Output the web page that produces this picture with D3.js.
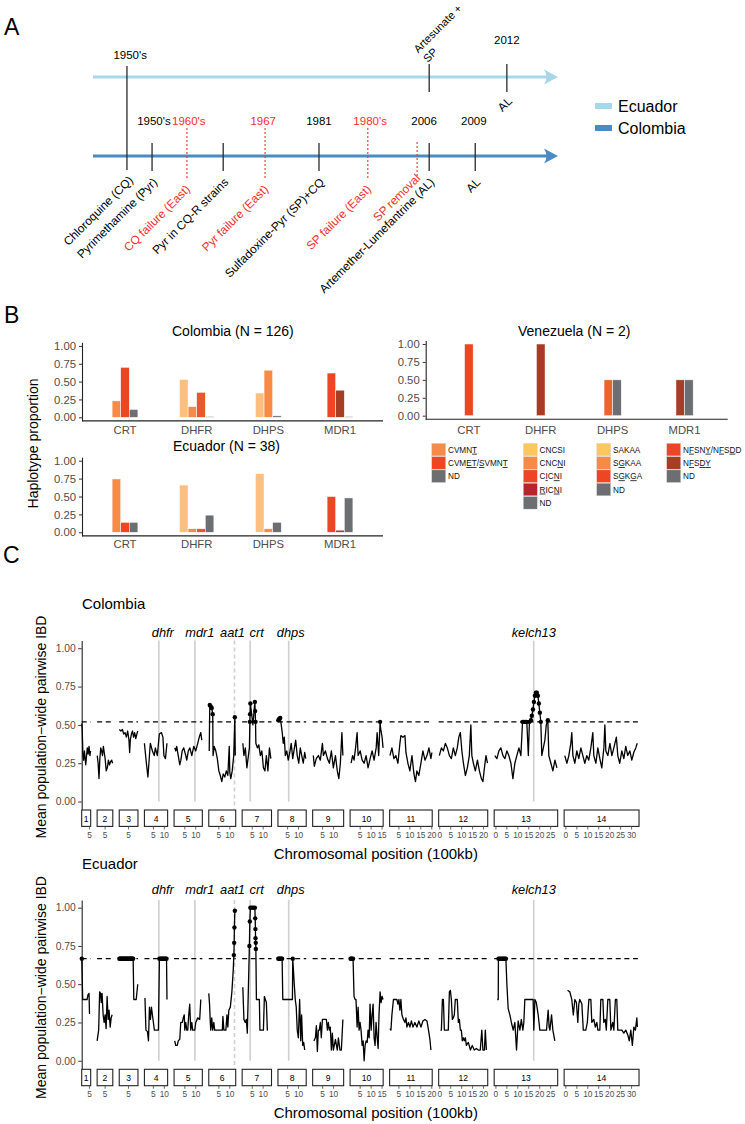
<!DOCTYPE html>
<html><head><meta charset="utf-8">
<script src="https://cdn.jsdelivr.net/npm/d3@7/dist/d3.min.js"></script>
<style>
html,body{margin:0;padding:0;background:#fff;}
svg text{font-family:"Liberation Sans",Arial,Helvetica,sans-serif;}
</style></head><body>
<svg id="fig" width="745" height="1124"></svg>
<script>
// ================= DATA =================
// Panel A: timeline slots (0-100 along the arrow)
const sharedEventSlots = [7.3];
const sharedEventDrugs = ["Chloroquine (CQ)"];
const sharedYearLabels = ["1950's"];
const sharedYearSlots = [8.0];
const colEventSlots = [12.7, 28.0, 48.6, 72.3, 82.2];
const colEventDrugs = ["Pyrimethamine (Pyr)", "Pyr in CQ-R strains", "Sulfadoxine-Pyr (SP)+CQ", "Artemether-Lumefantrine (AL)", "AL"];
const colFailSlots = [20.2, 37.0, 59.1, 69.7];
const colFailLabels = ["CQ failure (East)", "Pyr failure (East)", "SP failure (East)", "SP removal"];
const colYearSlots = [13.1, 20.6, 36.6, 48.6, 59.6, 71.2, 81.9];
const colYearLabels = ["1950's", "1960's", "1967", "1981", "1980's", "2006", "2009"];
const colYearIsFailure = [false, true, true, false, true, false, false];
const ecuEventSlots = [72.3, 89.0];
const ecuEventDrugs = [["Artesunate +", "SP"], ["AL"]];
const ecuYearSlots = [89.0];
const ecuYearLabels = ["2012"];
const countries = ["Ecuador", "Colombia"];

// Panel B: haplotype proportions
const genes = ["CRT", "DHFR", "DHPS", "MDR1"];
const crtHaps = ["CVMN[T]", "CVM[ET]/[S]VMN[T]", "ND"];
const dhfrHaps = ["CNCSI", "CNC[N]I", "C[I]C[N]I", "[R]IC[N]I", "ND"];
const dhpsHaps = ["SAKAA", "S[G]KAA", "S[G]K[G]A", "ND"];
const mdr1Haps = ["N[F]SN[Y]/N[F]S[D]D", "N[F]S[D][Y]", "ND"];
const colombiaProp = [[0.23, 0.70, 0.11], [0.53, 0.15, 0.35, 0, 0.01], [0.34, 0.66, 0, 0.02], [0.62, 0.38, 0.01]];
const ecuadorProp = [[0.745, 0.14, 0.14], [0.66, 0.05, 0.05, 0, 0.24], [0.82, 0.05, 0, 0.14], [0.50, 0.03, 0.48]];
const venezuelaProp = [[0, 1.0, 0], [0, 0, 0, 1.0, 0], [0, 0, 0.5, 0.5], [0, 0.5, 0.5]];
const yTicksB = [0, 0.25, 0.5, 0.75, 1];

// Panel C: IBD along chromosomes (position in 100kb, mean IBD)
const chromosomes = ["1","2","3","4","5","6","7","8","9","10","11","12","13","14"];
const chrDomain = [[1.45,5.55],[1.35,8.5],[0.75,9.3],[0.9,11.5],[0.1,13.0],[0.4,12.7],[0.4,13.8],[0.6,13.5],[0.45,14.6],[0.4,15.5],[0.75,20.2],[-0.5,21.9],[-0.8,28.2],[-0.8,33.4]];
const geneNames = ["dhfr", "mdr1", "aat1", "crt", "dhps", "kelch13"];
const geneChr = [4, 5, 6, 7, 8, 13];
const genePos = [7.5, 9.6, 12.15, 4.05, 5.5, 17.25];
const yTicksC = [0, 0.25, 0.5, 0.75, 1];
const colombiaThreshold = 0.52;
const ecuadorThreshold = 0.667;

const colombiaIBD = [
 [[1.5,.51],[1.7,.46],[2.0,.30],[2.3,.27],[2.7,.33],[3.0,.28],[3.3,.24],[3.6,.29],[4.0,.35],[4.4,.31],[4.8,.36],[5.2,.30],[5.5,.33]],
 [[1.4,.30],[1.8,.25],[2.2,.15],[2.6,.28],[3.0,.35],[3.4,.33],[3.8,.30],[4.2,.36],[4.6,.32],[5.0,.28],[5.5,.20],[6.0,.22],[6.5,.27],[7.0,.24],[7.5,.26],[8.0,.27],[8.4,.25]],
 [[0.8,.47],[1.5,.46],[2.2,.47],[2.8,.44],[3.4,.45],[4.0,.42],[4.6,.46],[5.2,.40],[5.5,.32],[5.8,.40],[6.3,.44],[6.8,.46],[7.3,.42],[7.8,.45],[8.3,.41],[8.8,.44],[9.2,.46]],
 [[0.9,.38],[1.8,.25],[2.5,.16],[3.2,.30],[3.6,.38],[4.55,.33],[5.4,.30],[5.9,.35],[6.8,.30],[7.7,.44],[8.65,.45],[9.35,.42],[9.8,.30],[10.5,.28],[11.2,.38]],
 [[0.4,.35],[0.9,.33],[1.3,.36],[2.0,.30],[2.7,.24],[3.2,.27],[3.8,.33],[4.5,.35],[5.45,.30],[5.9,.27],[6.6,.33],[7.3,.35],[8.2,.30],[9.1,.36],[10.0,.33],[10.9,.38],[11.6,.42],[12.3,.45],[12.75,.40]],
 [[0.6,.33],[0.85,.63],[1.3,.62],[1.75,.61],[2.2,.57],[2.35,.30],[2.9,.36],[3.6,.33],[4.3,.28],[5.0,.20],[5.65,.17],[6.35,.13],[7.0,.18],[7.7,.16],[8.4,.20],[9.1,.17],[9.75,.36],[10.0,.19],[10.45,.15],[11.1,.20],[11.8,.30],[12.3,.55],[12.5,.30]],
 [[0.7,.38],[1.2,.30],[1.85,.35],[2.55,.22],[3.25,.30],[3.7,.35],[3.92,.52],[4.0,.57],[4.15,.64],[5.3,.50],[6.2,.65],[6.35,.59],[6.5,.52],[6.65,.38],[7.35,.35],[8.0,.37],[8.7,.30],[9.4,.33],[10.1,.22],[10.8,.20],[11.45,.30],[12.15,.20],[12.85,.35],[13.5,.28]],
 [[0.75,.53],[1.2,.54],[1.65,.545],[2.1,.50],[2.55,.45],[3.0,.38],[3.5,.42],[3.95,.30],[4.6,.33],[5.3,.27],[6.0,.32],[6.65,.38],[7.35,.28],[8.0,.34],[8.7,.40],[9.4,.30],[10.1,.25],[10.8,.35],[11.45,.30],[12.15,.25],[12.8,.32],[13.3,.28]],
 [[0.75,.30],[1.2,.23],[2.1,.28],[3.05,.30],[3.95,.27],[4.9,.38],[5.35,.30],[6.25,.33],[7.2,.28],[8.1,.25],[9.0,.33],[9.9,.22],[10.85,.30],[11.7,.20],[12.4,.15],[13.1,.25],[13.8,.45],[14.25,.30]],
 [[0.85,.25],[1.55,.30],[2.2,.27],[2.9,.35],[3.6,.45],[4.05,.30],[5.0,.33],[5.9,.27],[6.8,.25],[7.7,.30],[8.6,.22],[9.55,.28],[10.45,.33],[11.35,.27],[12.3,.35],[12.75,.45],[13.45,.30],[14.1,.52],[14.3,.48],[15.0,.42],[15.45,.35]],
 [[0.9,.30],[1.8,.35],[2.7,.28],[3.6,.30],[4.55,.25],[5.45,.38],[5.9,.43],[6.85,.42],[7.75,.43],[8.2,.32],[9.1,.25],[10.0,.20],[10.95,.30],[11.85,.18],[12.55,.13],[13.2,.20],[14.1,.17],[15.05,.25],[15.95,.33],[16.9,.27],[17.8,.30],[18.7,.35],[19.6,.28],[20.05,.32]],
 [[-0.2,.30],[0.75,.35],[1.65,.33],[2.55,.38],[3.45,.35],[4.4,.30],[5.3,.28],[6.2,.35],[7.1,.30],[8.0,.35],[8.7,.42],[9.4,.45],[10.1,.33],[10.8,.25],[11.7,.17],[12.6,.22],[13.5,.30],[14.2,.50],[14.65,.30],[15.35,.25],[16.25,.20],[17.2,.27],[18.1,.20],[19.0,.15],[19.7,.13],[20.4,.22],[21.1,.30],[21.8,.25]],
 [[-0.5,.30],[0.45,.28],[1.35,.33],[2.25,.35],[3.2,.30],[4.1,.28],[5.0,.33],[5.9,.30],[6.85,.25],[7.75,.15],[8.65,.25],[9.55,.30],[10.5,.35],[11.4,.30],[12.15,.52],[12.75,.52],[13.45,.52],[14.1,.52],[14.8,.30],[15.3,.52],[16.0,.53],[16.4,.56],[16.9,.60],[17.35,.65],[17.8,.69],[18.25,.71],[18.7,.71],[19.15,.69],[19.6,.64],[20.05,.58],[20.5,.52],[20.95,.30],[21.65,.35],[22.35,.40],[23.0,.50],[23.7,.53],[24.15,.30],[25.1,.25],[26.0,.20],[26.95,.27],[27.85,.22]],
 [[-0.5,.30],[0.45,.25],[1.35,.30],[2.25,.38],[2.7,.45],[3.2,.30],[4.1,.25],[5.0,.33],[5.9,.28],[6.85,.35],[7.75,.30],[8.65,.25],[9.55,.30],[10.45,.27],[11.4,.35],[12.3,.45],[12.75,.30],[13.7,.25],[14.6,.35],[15.5,.28],[16.4,.22],[17.35,.35],[17.8,.50],[18.25,.33],[19.15,.30],[20.1,.38],[21.0,.30],[21.9,.35],[23.05,.42],[23.7,.30],[24.6,.25],[25.55,.33],[26.45,.28],[27.35,.36],[28.25,.30],[29.2,.33],[30.1,.27],[31.0,.32],[31.9,.35],[32.6,.38]]
];

const ecuadorIBD = [
 [[1.5,.667],[1.9,.40],[3.9,.40],[4.3,.43],[4.8,.44],[5.0,.31],[5.3,.31]],
 [[1.35,.13],[2.05,.20],[2.5,.45],[2.95,.44],[3.2,.38],[3.6,.44],[4.1,.30],[4.55,.25],[5.0,.30],[5.45,.21],[5.9,.42],[6.4,.27],[6.8,.33],[7.3,.22],[7.75,.28],[8.2,.30]],
 [[0.8,.667],[1.1,.667],[1.4,.667],[1.7,.667],[2.0,.667],[2.3,.667],[2.6,.667],[2.9,.667],[3.2,.667],[3.5,.667],[3.8,.667],[4.1,.667],[4.4,.667],[4.7,.667],[5.0,.667],[5.3,.667],[5.6,.667],[5.9,.667],[6.2,.667],[6.5,.667],[6.8,.667],[7.1,.667],[7.4,.40],[8.5,.40],[9.2,.50]],
 [[1.15,.41],[1.6,.20],[2.3,.19],[2.75,.13],[3.2,.35],[3.65,.27],[4.1,.35],[4.55,.30],[5.0,.25],[5.45,.20],[6.4,.20],[7.3,.20],[7.75,.667],[8.2,.667],[8.6,.667],[9.0,.667],[9.4,.667],[9.8,.667],[10.2,.667],[10.6,.667],[11.0,.667],[11.2,.40]],
 [[0.4,.13],[0.85,.10],[1.55,.10],[2.0,.13],[2.7,.14],[3.15,.25],[3.85,.25],[4.3,.28],[4.75,.30],[5.0,.20],[5.45,.25],[5.9,.20],[6.35,.20],[6.8,.30],[7.25,.37],[7.7,.20],[8.2,.25],[8.6,.20],[9.55,.20],[10.0,.25],[10.9,.28],[11.8,.27],[12.3,.40]],
 [[0.4,.44],[0.75,.37],[1.1,.25],[1.3,.20],[1.75,.28],[2.2,.20],[2.7,.25],[3.1,.20],[4.05,.20],[5.0,.20],[5.9,.20],[6.6,.20],[6.85,.29],[7.3,.20],[8.2,.20],[8.7,.30],[9.1,.22],[9.55,.33],[10.25,.35],[10.95,.45],[11.6,.60],[11.85,.69],[12.0,.77],[12.1,.87],[12.3,.98]],
 [[0.7,.48],[1.2,.27],[1.85,.25],[2.3,.27],[2.75,.18],[3.7,.75],[3.9,.91],[4.15,1.0],[4.8,1.0],[5.5,1.0],[6.2,1.0],[6.35,.93],[6.45,.86],[6.5,.80],[6.6,.77],[6.65,.73],[6.9,.40],[7.55,.40],[8.25,.40],[8.5,.20],[9.4,.20],[10.1,.20],[10.55,.42],[11.0,.40],[11.45,.38],[11.9,.20],[12.15,.20]],
 [[0.75,.667],[1.1,.667],[1.45,.667],[1.8,.667],[2.15,.667],[2.5,.667],[2.8,.40],[3.9,.40],[4.85,.40],[6.0,.40],[7.2,.40],[7.35,.667],[8.05,.50],[8.5,.40],[8.95,.35],[9.4,.20],[9.9,.15],[10.5,.40],[11.0,.13],[11.4,.30],[11.9,.10],[12.35,.12],[12.8,.07]],
 [[1.0,.13],[1.7,.15],[2.15,.23],[2.6,.06],[3.05,.20],[3.5,.20],[3.95,.25],[4.4,.15],[4.9,.27],[5.8,.27],[6.7,.27],[7.2,.20],[7.6,.25],[8.1,.20],[8.5,.22],[9.0,.07],[9.45,.18],[9.9,.07],[10.85,.14],[11.3,.10],[11.7,.07],[12.2,.15],[12.9,.07],[13.55,.07],[14.25,.27]],
 [[0.6,.667],[0.85,.667],[1.3,.667],[1.75,.667],[2.2,.42],[2.7,.40],[3.1,.40],[3.6,.22],[4.05,.35],[4.5,.20],[4.95,.25],[5.4,.20],[5.9,.10],[6.35,.13],[6.8,.0],[7.25,.10],[7.7,.13],[8.2,.12],[8.6,.20],[9.1,.15],[9.5,.37],[10.0,.20],[10.45,.30],[10.9,.37],[11.35,.15],[11.8,.10],[12.25,.25],[12.75,.15],[13.2,.08],[13.6,.30],[14.1,.45],[14.55,.38],[15.0,.42],[15.45,.40]],
 [[0.9,.21],[1.35,.20],[1.8,.30],[2.5,.40],[3.15,.40],[4.05,.40],[4.55,.37],[5.0,.40],[5.45,.33],[5.9,.40],[6.35,.30],[7.05,.27],[7.75,.25],[8.2,.28],[8.65,.22],[9.35,.25],[10.0,.22],[10.7,.26],[11.4,.22],[12.3,.25],[13.2,.22],[14.1,.26],[15.05,.22],[15.95,.26],[16.9,.27],[17.8,.26],[18.5,.20],[19.15,.14],[19.6,.07]],
 [[0.3,.20],[0.75,.20],[1.2,.40],[1.65,.40],[2.1,.20],[3.0,.20],[3.9,.20],[4.4,.45],[4.85,.46],[5.3,.40],[5.75,.27],[6.2,.28],[6.65,.30],[7.1,.40],[8.0,.40],[8.5,.25],[8.95,.27],[9.4,.20],[9.85,.20],[10.3,.13],[10.8,.15],[11.2,.13],[11.7,.15],[12.15,.10],[13.05,.12],[14.0,.07],[14.85,.10],[15.75,.07],[16.7,.08],[17.6,.07],[18.5,.07],[19.2,.20],[19.7,.07],[20.4,.07],[20.8,.20],[21.3,.07]],
 [[0.6,.40],[1.05,.40],[1.15,.667],[1.8,.667],[2.25,.667],[2.7,.667],[3.2,.667],[3.65,.667],[4.1,.667],[4.55,.667],[5.0,.50],[5.6,.34],[6.37,.30],[7.05,.25],[7.9,.20],[8.65,.25],[9.4,.07],[10.15,.26],[10.95,.20],[11.6,.27],[12.3,.20],[12.75,.25],[13.2,.40],[14.1,.40],[15.05,.40],[15.95,.40],[17.0,.40],[17.3,.20],[17.8,.40],[18.45,.38],[19.3,.30],[20.05,.20],[21.45,.20],[23.1,.20],[23.85,.33],[24.3,.22],[24.65,.20],[25.4,.30],[26.0,.20],[26.9,.13]],
 [[0.75,.46],[1.8,.45],[2.7,.40],[3.4,.30],[4.1,.40],[4.8,.38],[5.45,.25],[5.9,.37],[6.35,.40],[7.3,.37],[7.95,.20],[9.1,.20],[9.8,.25],[10.5,.40],[11.4,.40],[11.85,.25],[12.75,.27],[13.45,.22],[14.15,.25],[14.6,.20],[15.5,.20],[15.95,.40],[16.9,.40],[17.3,.25],[18.0,.27],[18.45,.20],[19.15,.40],[20.05,.40],[20.55,.20],[21.4,.25],[21.9,.20],[22.6,.40],[23.25,.40],[23.7,.20],[24.6,.20],[25.55,.20],[26.45,.18],[27.35,.20],[28.25,.17],[28.95,.13],[29.65,.20],[30.35,.10],[31.05,.22],[31.75,.20],[32.4,.28],[32.65,.22]]
];

// ================= DRAWING =================
const svg = d3.select("#fig");
const GREY_TXT = "#4d4d4d";

[["A",4,35],["B",4,323],["C",3,563]].forEach(([t,x,y]) =>
  svg.append("text").attr("x",x).attr("y",y).attr("font-size",23).text(t));

// ---------- Panel A ----------
const tl = d3.scaleLinear().domain([0,100]).range([93,558]);
const yLine = d3.scaleOrdinal().domain(countries).range([77,156]);
const lineColor = d3.scaleOrdinal().domain(countries).range(["#a8d7e9","#4a8bc4"]);
const RED = "#f2302b", TICK = "#2b2b2b";

countries.forEach(c => {
  const y = yLine(c), col = lineColor(c), xe = tl(100);
  svg.append("line").attr("x1",tl(0)).attr("x2",xe-9).attr("y1",y).attr("y2",y)
     .attr("stroke",col).attr("stroke-width",3);
  svg.append("path").attr("d",`M${xe},${y} L${xe-14},${y-7.5} Q${xe-9},${y} ${xe-14},${y+7.5} Z`).attr("fill",col);
});

function vtick(x,y1,y2,color,dash){
  svg.append("line").attr("x1",x).attr("x2",x).attr("y1",y1).attr("y2",y2)
    .attr("stroke",color).attr("stroke-width",dash?1.1:1.3).attr("stroke-dasharray",dash?"2,2":null);
}
function rotText(x,y,lines,anchor,color,lineFirstUp,fs){
  const g = svg.append("g").attr("transform",`translate(${x},${y})`);
  const t = g.append("g").attr("transform","rotate(-45)").append("text")
    .attr("text-anchor",anchor).attr("fill",color).attr("font-size",fs||11.8);
  const n = lines.length;
  lines.forEach((l,i)=>{
    t.append("tspan").attr("x",0).attr("y",(i-(n-1))*13.5).attr("dy",lineFirstUp?0:"0.35em").text(l);
  });
}
function yearText(x,y,t,color){
  svg.append("text").attr("x",x).attr("y",y).attr("text-anchor","middle").attr("fill",color).attr("font-size",11.5).text(t);
}
const yC = yLine("Colombia"), yE = yLine("Ecuador");
sharedEventSlots.forEach((s,i)=>{
  vtick(tl(s), yE-11, yC+14, TICK);
  rotText(tl(s)+4, yC+22, [sharedEventDrugs[i]], "end", "#000");
});
sharedYearSlots.forEach((s,i)=> yearText(tl(s), 59, sharedYearLabels[i], "#000"));
colEventSlots.forEach((s,i)=>{
  vtick(tl(s), yC-13, yC+15, TICK);
  rotText(tl(s)+3, yC+24, [colEventDrugs[i]], "end", "#000");
});
colFailSlots.forEach((s,i)=>{
  const last = i===colFailSlots.length-1;
  vtick(tl(s), last? yC-14 : yC-28, last? yC+21 : yC+24, RED, true);
  rotText(tl(s)+1, last? yC+20 : yC+31, [colFailLabels[i]], "end", RED);
});
colYearSlots.forEach((s,i)=> yearText(tl(s), 125, colYearLabels[i], colYearIsFailure[i]?RED:"#000"));
ecuEventSlots.forEach((s,i)=>{
  vtick(tl(s), yE-13, yE+15, TICK);
  if(i===0) rotText(tl(s)-1.5, yE-14, ecuEventDrugs[i], "start", "#000", true, 11);
  else rotText(tl(s)+3, yE+22, ecuEventDrugs[i], "end", "#000");
});
ecuYearSlots.forEach((s,i)=> yearText(tl(s), 44, ecuYearLabels[i], "#000"));
countries.forEach((c,i)=>{
  const y = 106 + i*22;
  svg.append("rect").attr("x",595).attr("y",y-3).attr("width",17).attr("height",6).attr("fill",lineColor(c));
  svg.append("text").attr("x",618).attr("y",y+5.5).attr("font-size",16).text(c);
});

// ---------- Panel B ----------
const hapLists = [crtHaps, dhfrHaps, dhpsHaps, mdr1Haps];
const hapColors = [
  ["#f68b47","#ee4524","#6d6e71"],
  ["#fdbf80","#f68b47","#e65a29","#a83b25","#6d6e71"],
  ["#fdbf80","#f68b47","#e9652c","#6d6e71"],
  ["#ee4524","#a63d25","#6d6e71"]
];
const legendHapColors = [
  ["#f68b47","#ee4524","#6d6e71"],
  ["#fdc75f","#f68b47","#ee4524","#b8232d","#6d6e71"],
  ["#fdc75f","#f68b47","#ee4524","#6d6e71"],
  ["#ee4524","#a63d25","#6d6e71"]
];
const BW = 8.6;
function barPanel(x0,x1,y0,y1,props,title,titleX,titleY,labY){
  const u = y0-y1;
  const y = d3.scaleLinear().domain([-0.05,1.05]).range([y0+0.05*u, y1-0.05*u]);
  const x = d3.scalePoint().domain(genes).range([x0,x1]).padding(0.6);
  const g = svg.append("g");
  const ax = g.append("g").attr("transform",`translate(${x0},0)`)
    .call(d3.axisLeft(y).tickValues(yTicksB).tickFormat(d3.format(".2f")).tickSize(3).tickSizeOuter(0).tickPadding(3));
  ax.select(".domain").attr("stroke","#222").attr("stroke-width",1.1);
  ax.selectAll(".tick line").attr("stroke","#333");
  ax.selectAll(".tick text").attr("fill",GREY_TXT).attr("font-size",11.3).attr("font-family",null);
  g.append("line").attr("x1",x0).attr("x2",x1).attr("y1",y(-0.05)).attr("y2",y(-0.05)).attr("stroke","#222").attr("stroke-width",1.1);
  genes.forEach((gname,gi)=>{
    const vals = props[gi].map((v,hi)=>({v,hi})).filter(d=>d.v>0);
    const start = x(gname) - vals.length*BW/2;
    vals.forEach((d,k)=>{
      g.append("rect").attr("x",start+k*BW).attr("width",BW).attr("y",y(d.v)).attr("height",y(0)-y(d.v))
        .attr("fill",hapColors[gi][d.hi]).attr("stroke","#fff").attr("stroke-width",0.5);
    });
    g.append("text").attr("x",x(gname)).attr("y",labY).attr("text-anchor","middle").attr("fill",GREY_TXT).attr("font-size",11.3).text(gname);
  });
  g.append("text").attr("x",titleX).attr("y",titleY).attr("font-size",14).text(title);
}
barPanel(82,383,417.3,345.9,colombiaProp,"Colombia (N = 126)",172,336,433.5);
barPanel(82,383,532.3,460.7,ecuadorProp,"Ecuador (N = 38)",173,451,547.5);
barPanel(425.7,727.7,415.7,344,venezuelaProp,"Venezuela (N = 2)",518,336,433.5);
svg.append("text").attr("transform","translate(37.5,443.5) rotate(-90)").attr("text-anchor","middle").attr("font-size",14).text("Haplotype proportion");

const legX = [431.7, 523.3, 596.7, 666.7];
function richText(sel,label){
  const parts = label.split(/(\[[^\]]*\])/).filter(p=>p.length);
  parts.forEach(p=>{
    if(p[0]==="["){ sel.append("tspan").attr("text-decoration","underline").style("text-decoration","underline").text(p.slice(1,-1)); }
    else sel.append("tspan").text(p);
  });
}
hapLists.forEach((haps,gi)=>{
  haps.forEach((h,hi)=>{
    const y = 443.3 + hi*13.3;
    svg.append("rect").attr("x",legX[gi]).attr("y",y).attr("width",14).attr("height",12.6)
      .attr("fill",legendHapColors[gi][hi]).attr("stroke","#ddd").attr("stroke-width",0.4);
    const t = svg.append("text").attr("x",legX[gi]+16.3).attr("y",y+9.4).attr("font-size",8.2).attr("fill","#111");
    richText(t,h);
  });
});

// ---------- Panel C ----------
const K = 2.19, GAP = 6.45, XL = 81.7;
let cur = XL;
const chrScales = chrDomain.map(d=>{
  const w=(d[1]-d[0])*K; const s=d3.scaleLinear().domain(d).range([cur,cur+w]); cur+=w+GAP; return s;
});
const geneNudge = [4, 5, -2, 6.5, 2, 0];

function ibdPanel(data,thr,yTop,yBot,title,titleY,geneY,stripTop,tickLabY,xTitleY,yTitleC){
  const y = d3.scaleLinear().domain([-0.05,1.05]).range([yBot,yTop]);
  const g = svg.append("g");
  g.append("text").attr("x",82).attr("y",titleY).attr("font-size",15).text(title);
  geneNames.forEach((gn,i)=>{
    const xs = chrScales[geneChr[i]-1](genePos[i]);
    const dashed = gn==="aat1";
    g.append("line").attr("x1",xs).attr("x2",xs).attr("y1",yTop).attr("y2",dashed?yBot:y(0))
      .attr("stroke","#cfcfcf").attr("stroke-width",1.6).attr("stroke-dasharray",dashed?"4,3":null);
    g.append("text").attr("x",xs+geneNudge[i]).attr("y",geneY).attr("text-anchor","middle")
      .attr("font-size",12.8).attr("font-style","italic").text(gn);
  });
  const ax = g.append("g").attr("transform",`translate(${XL},0)`)
    .call(d3.axisLeft(y).tickValues(yTicksC).tickFormat(d3.format(".2f")).tickSize(3.5).tickSizeOuter(0).tickPadding(2.5));
  ax.select(".domain").attr("stroke","#222").attr("stroke-width",1.1);
  ax.selectAll(".tick line").attr("stroke","#333");
  ax.selectAll(".tick text").attr("fill",GREY_TXT).attr("font-size",10.3).attr("font-family",null);
  const line = d3.line().x(d=>d[0]).y(d=>y(d[1]));
  chrScales.forEach((xs,ci)=>{
    const [a,b] = xs.range();
    g.append("line").attr("x1",a).attr("x2",b).attr("y1",y(thr)).attr("y2",y(thr))
      .attr("stroke","#000").attr("stroke-width",1.1).attr("stroke-dasharray","5,3.6");
    const pts = data[ci].map(d=>[xs(d[0]),d[1]]);
    g.append("path").attr("d",line(pts)).attr("fill","none").attr("stroke","#000").attr("stroke-width",1.3).attr("stroke-linejoin","round");
    data[ci].filter(d=>d[1]>=thr-0.005).forEach(d=>{
      g.append("circle").attr("cx",xs(d[0])).attr("cy",y(d[1])).attr("r",2.2).attr("fill","#000");
    });
    g.append("rect").attr("x",a).attr("y",stripTop).attr("width",b-a).attr("height",16.4)
      .attr("fill","#fff").attr("stroke","#222").attr("stroke-width",1.1);
    g.append("text").attr("x",(a+b)/2).attr("y",stripTop+11.6).attr("text-anchor","middle").attr("font-size",8.6).text(chromosomes[ci]);
    const d = xs.domain();
    d3.range(Math.ceil(d[0]/5)*5, d[1]+1e-9, 5).forEach(v=>{
      g.append("line").attr("x1",xs(v)).attr("x2",xs(v)).attr("y1",stripTop+16.4).attr("y2",stripTop+19.5).attr("stroke","#444").attr("stroke-width",0.8);
      g.append("text").attr("x",xs(v)).attr("y",tickLabY).attr("text-anchor","middle").attr("font-size",8.3).attr("fill",GREY_TXT).text(v);
    });
  });
  g.append("text").attr("x",375.8).attr("y",xTitleY).attr("text-anchor","middle").attr("font-size",15).text("Chromosomal position (100kb)");
  g.append("text").attr("transform",`translate(46,${yTitleC}) rotate(-90)`).attr("text-anchor","middle").attr("font-size",14).text("Mean population\u2212wide pairwise IBD");
}
ibdPanel(colombiaIBD,colombiaThreshold,640.6,809.2,"Colombia",609,637,810,837.5,859,727);
ibdPanel(ecuadorIBD,ecuadorThreshold,900,1068.4,"Ecuador",869,894,1069.3,1096.7,1118,987.5);
</script>
</body></html>
